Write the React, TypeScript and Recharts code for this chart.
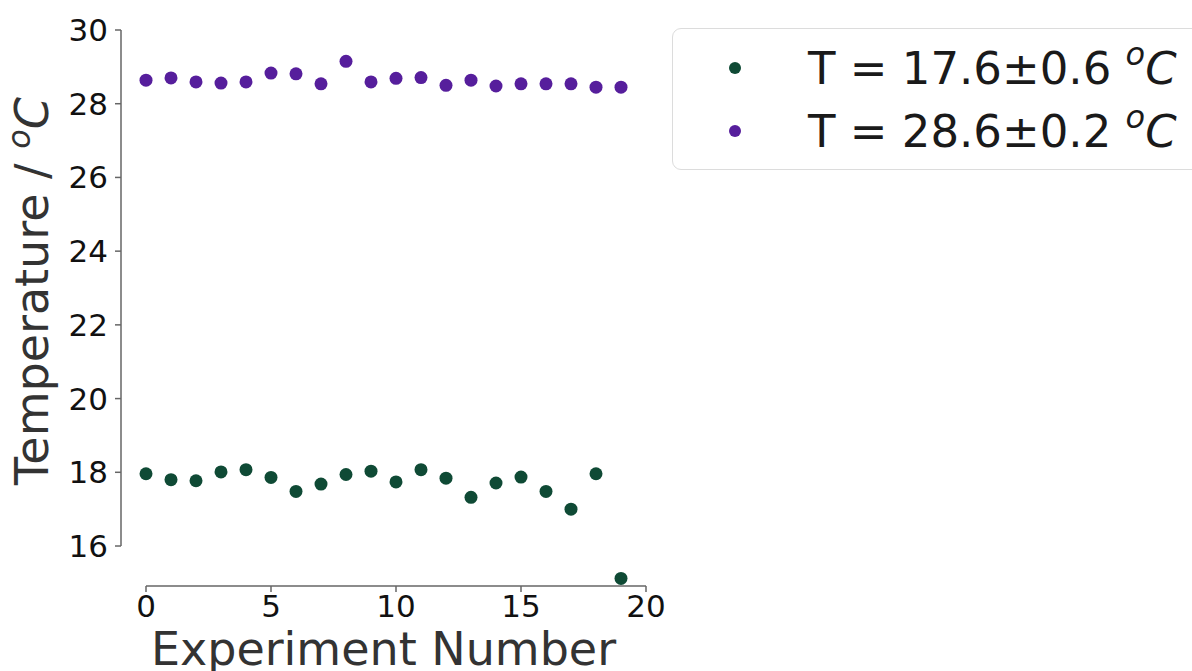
import React from 'react';
import { ScatterChart, Scatter, XAxis, YAxis, ReferenceLine, Legend } from 'recharts';

const experiments = [0, 1, 2, 3, 4, 5, 6, 7, 8, 9, 10, 11, 12, 13, 14, 15, 16, 17, 18, 19];
const coldTemps = [17.96, 17.8, 17.77, 18.01, 18.07, 17.86, 17.48, 17.68, 17.94, 18.03, 17.74, 18.07, 17.84, 17.32, 17.71, 17.87, 17.48, 17.0, 17.96, 15.12];
const warmTemps = [28.64, 28.7, 28.59, 28.56, 28.59, 28.83, 28.81, 28.54, 29.15, 28.59, 28.69, 28.71, 28.5, 28.64, 28.48, 28.54, 28.54, 28.54, 28.45, 28.45];
const seriesLabels = ['T = 17.6±0.6', 'T = 28.6±0.2'];
const seriesColors = ['#0f4a35', '#561e9c'];
const xTicks = [0, 5, 10, 15, 20];
const yTicks = [16, 18, 20, 22, 24, 26, 28, 30];

const coldData = experiments.map((x, i) => ({ x, y: coldTemps[i] }));
const warmData = experiments.map((x, i) => ({ x, y: warmTemps[i] }));

const FONT = 'DejaVu Sans';
const X_MIN = -1;
const Y_MIN = 14.915;

const dot = (color: string) => (props: any) => (
  <circle cx={props.cx} cy={props.cy} r={6.5} fill={color} />
);

const LegendBox = (props: any) => {
  const payload = props.payload || [];
  return (
    <div style={{ width: 560, height: 142, border: '1.5px solid #dcdcdc', borderRadius: 9, background: '#fff', boxSizing: 'border-box' }}>
      <svg width={560} height={140}>
        {payload.map((p: any, i: number) => (
          <g key={i}>
            <circle cx={62} cy={39 + i * 63} r={6} fill={p.color} />
            <text x={135} y={55 + i * 63} fontFamily={FONT} fontSize={45} fill="#1a1a1a">
              {p.value + ' '}
              <tspan fontStyle="italic" fontSize={32} dy={-19}>o</tspan>
              <tspan fontStyle="italic" fontSize={45} dy={19}>C</tspan>
            </text>
          </g>
        ))}
      </svg>
    </div>
  );
};

const YLabel = (props: any) => {
  const vb = props.viewBox || { x: 0, y: 0, width: 0, height: 0 };
  const cx = 48;
  const cy = vb.y + vb.height / 2 - 17;
  return (
    <text x={cx} y={cy} transform={`rotate(-90, ${cx}, ${cy})`} textAnchor="middle" fontFamily={FONT} fontSize={46} fill="#333">
      {'Temperature / '}
      <tspan fontStyle="italic" fontSize={32} dy={-18}>o</tspan>
      <tspan fontStyle="italic" fontSize={46} dy={18}>C</tspan>
    </text>
  );
};

export default function App() {
  return (
    <div style={{ position: 'absolute', left: 0, top: 0, width: 1192, height: 671, overflow: 'hidden', background: '#fff' }}>
      <ScatterChart width={1192} height={671} margin={{ top: 30, right: 546, bottom: 0, left: 0 }}>
        <XAxis
          type="number"
          dataKey="x"
          domain={[X_MIN, 20]}
          ticks={xTicks}
          allowDataOverflow
          axisLine={false}
          tickLine={{ stroke: '#666', strokeWidth: 1.5 }}
          tickSize={6}
          tickMargin={3}
          height={85}
          tick={{ fontFamily: FONT, fontSize: 31, fill: '#111' }}
          label={{ value: 'Experiment Number', position: 'insideBottom', offset: 6, fontFamily: FONT, fontSize: 46, fill: '#333' }}
        />
        <YAxis
          type="number"
          dataKey="y"
          domain={[Y_MIN, 30]}
          ticks={yTicks}
          allowDataOverflow
          axisLine={false}
          tickLine={{ stroke: '#666', strokeWidth: 1.5 }}
          tickSize={6}
          tickMargin={7}
          width={121}
          tick={{ fontFamily: FONT, fontSize: 31, fill: '#111' }}
          label={{ content: YLabel }}
        />
        <ReferenceLine segment={[{ x: X_MIN, y: 16 }, { x: X_MIN, y: 30 }]} stroke="#666" strokeWidth={1.5} ifOverflow="visible" />
        <ReferenceLine segment={[{ x: 0, y: Y_MIN }, { x: 20, y: Y_MIN }]} stroke="#666" strokeWidth={1.5} ifOverflow="visible" />
        <Scatter name={seriesLabels[0]} data={coldData} fill={seriesColors[0]} shape={dot(seriesColors[0])} isAnimationActive={false} />
        <Scatter name={seriesLabels[1]} data={warmData} fill={seriesColors[1]} shape={dot(seriesColors[1])} isAnimationActive={false} />
        <Legend
          layout="vertical"
          align="center"
          verticalAlign="middle"
          content={LegendBox}
          wrapperStyle={{ left: 672, top: 28, width: 560, height: 142 }}
        />
      </ScatterChart>
    </div>
  );
}
